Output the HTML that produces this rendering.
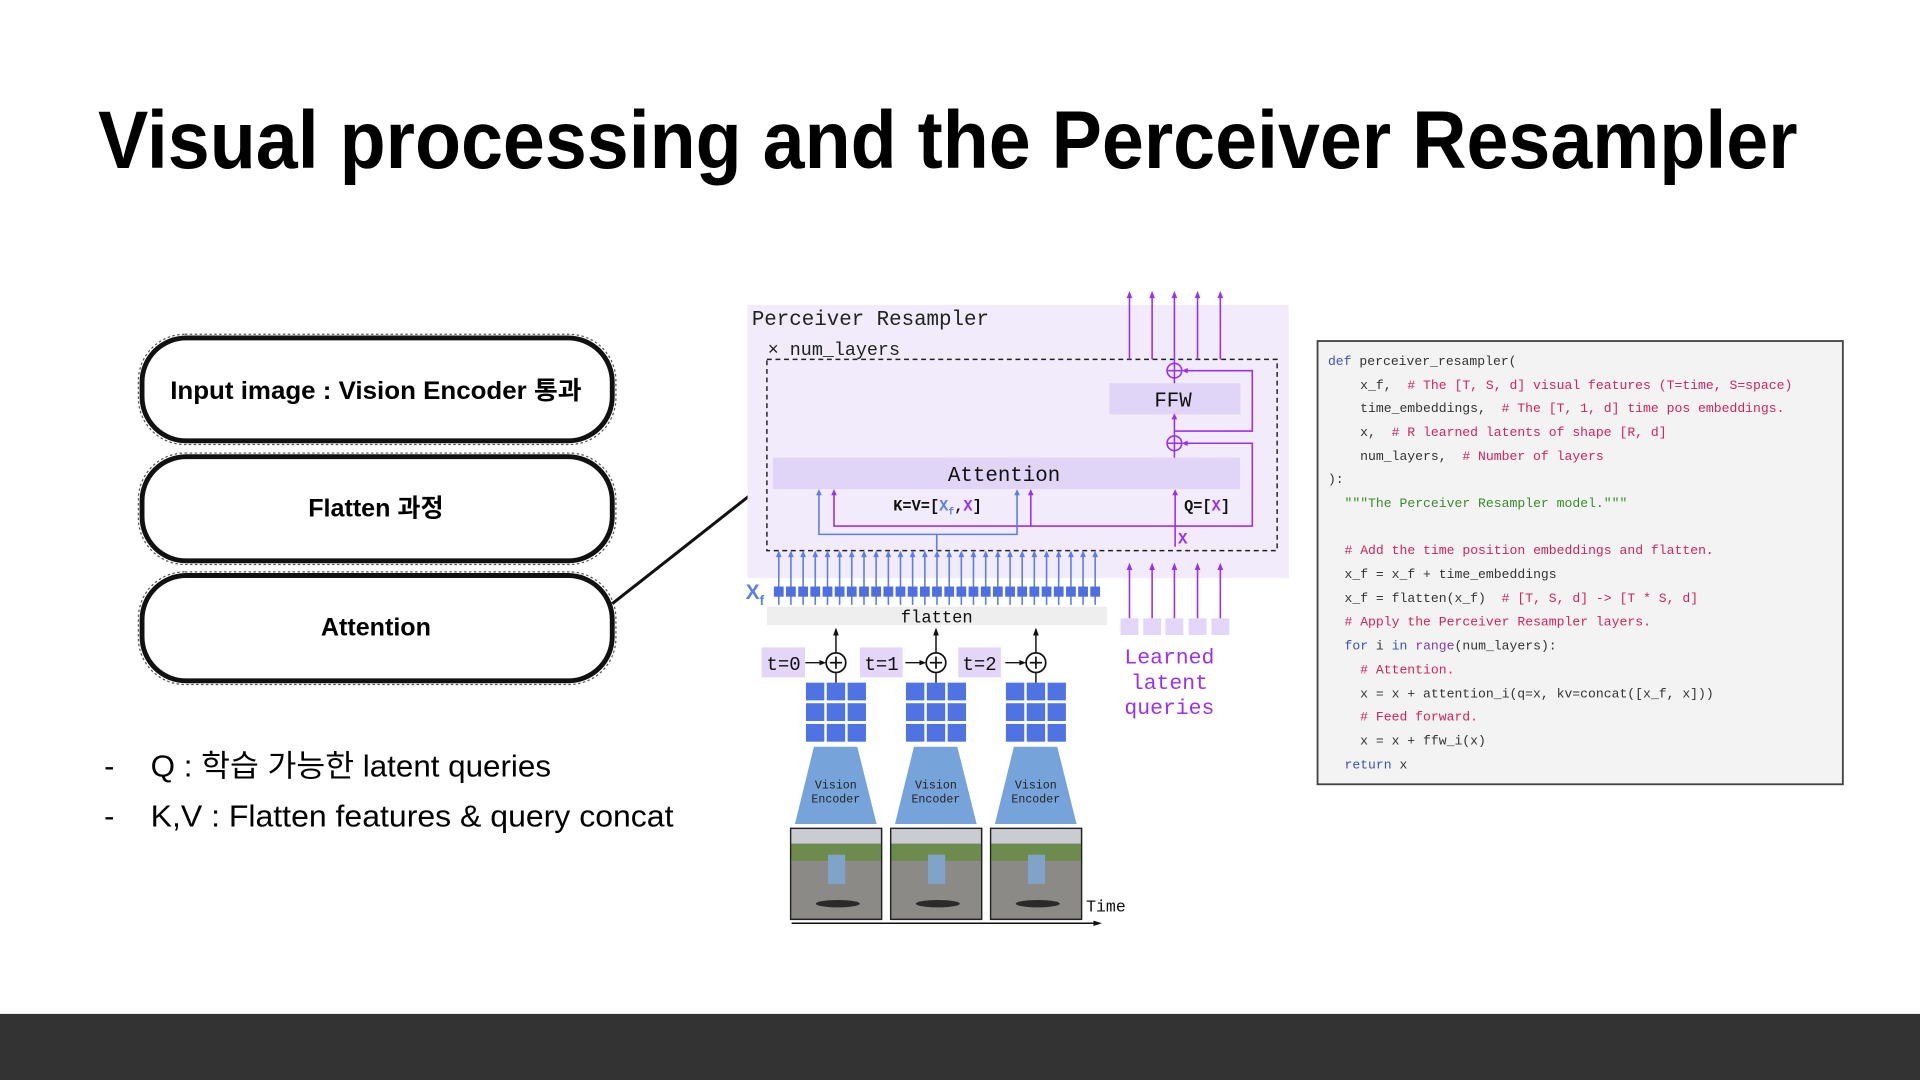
<!DOCTYPE html>
<html><head><meta charset="utf-8"><style>
html,body{margin:0;padding:0;background:#fff;}
svg{display:block;}
.mono{font-family:"Liberation Mono","DejaVu Sans Mono",monospace;}
.sans{font-family:"Liberation Sans","Noto Sans CJK KR",sans-serif;}
.code text{white-space:pre;}
</style></head><body>
<svg width="1920" height="1080" viewBox="0 0 1568 882" xmlns="http://www.w3.org/2000/svg">
<defs>
<g id="ba"><line x1="0" y1="494" x2="0" y2="452" stroke="#5b7fe8" stroke-width="1.3"/><polygon points="-2.3,455 0,449.5 2.3,455" fill="#5b7fe8"/><rect x="-4" y="479" width="8" height="8.3" fill="#4f6fe0"/></g>
<g id="pa"><line x1="0" y1="293.5" x2="0" y2="241" stroke="#9b30f0" stroke-width="1.3"/><polygon points="-2.3,243.5 0,237.5 2.3,243.5" fill="#9b30f0"/></g>
<g id="qa"><line x1="0" y1="505" x2="0" y2="463" stroke="#9b30f0" stroke-width="1.3"/><polygon points="-2.3,465.5 0,459.5 2.3,465.5" fill="#9b30f0"/><rect x="-7.3" y="505" width="14.6" height="13.6" fill="#e3d6f8"/></g>
<g id="ve"><polygon points="16.5,609.8 51.9,609.8 67.7,672.9 1,672.9" fill="#76a3d9"/>
<text x="34.4" y="644" font-size="9.5" text-anchor="middle" class="mono" fill="#222">Vision</text>
<text x="34.4" y="655.5" font-size="9.5" text-anchor="middle" class="mono" fill="#222">Encoder</text>
<g fill="#4f73e3"><rect x="10" y="557.5" width="15" height="14.5"/><rect x="27" y="557.5" width="15" height="14.5"/><rect x="44" y="557.5" width="15" height="14.5"/>
<rect x="10" y="574.3" width="15" height="14.5"/><rect x="27" y="574.3" width="15" height="14.5"/><rect x="44" y="574.3" width="15" height="14.5"/>
<rect x="10" y="591.2" width="15" height="14.5"/><rect x="27" y="591.2" width="15" height="14.5"/><rect x="44" y="591.2" width="15" height="14.5"/></g>
<line x1="34.5" y1="557.5" x2="34.5" y2="549.4" stroke="#111" stroke-width="1.2"/>
<line x1="34.5" y1="533" x2="34.5" y2="517" stroke="#111" stroke-width="1.2"/><polygon points="32.2,519 34.5,512.5 36.8,519" fill="#111"/>
<circle cx="34.5" cy="541.2" r="8" fill="#fff" stroke="#111" stroke-width="1.4"/>
<line x1="29.5" y1="541.2" x2="39.5" y2="541.2" stroke="#111" stroke-width="1.4"/><line x1="34.5" y1="536.2" x2="34.5" y2="546.2" stroke="#111" stroke-width="1.4"/>
<line x1="9.5" y1="541.2" x2="24" y2="541.2" stroke="#111" stroke-width="1.2"/><polygon points="21,539 26.5,541.2 21,543.4" fill="#111"/>
<rect x="-2.5" y="676.5" width="74.3" height="74.3" fill="#7e7e7a" stroke="#222" stroke-width="1.2"/>
<rect x="-1.9" y="677.1" width="73" height="12" fill="#c9ccd2"/>
<rect x="-1.9" y="689" width="73" height="14" fill="#6c8b4c"/>
<rect x="-1.9" y="703" width="73" height="47" fill="#8b8a86"/>
<ellipse cx="36" cy="738" rx="18" ry="3" fill="#2a2a2a"/>
<rect x="28" y="698" width="14" height="24" fill="#7fa4c8"/>
</g>
</defs>

<!-- title -->
<text x="80" y="137" font-size="67" font-weight="bold" class="sans" fill="#000" textLength="1388" lengthAdjust="spacingAndGlyphs">Visual processing and the Perceiver Resampler</text>

<!-- pills -->
<g fill="#fff" stroke="#111" stroke-width="4">
<rect x="116" y="276" width="384" height="84" rx="36"/>
<rect x="116" y="373" width="384" height="85" rx="36"/>
<rect x="116" y="470" width="384" height="86" rx="36"/>
</g>
<g fill="none" stroke="#555" stroke-width="1" stroke-dasharray="2 2">
<rect x="113" y="273" width="390" height="90" rx="38"/>
<rect x="113" y="370" width="390" height="91" rx="38"/>
<rect x="113" y="467" width="390" height="92" rx="38"/>
</g>
<g class="sans" font-size="20.5" font-weight="bold" text-anchor="middle" fill="#000">
<text x="307" y="326" textLength="336" lengthAdjust="spacingAndGlyphs">Input image : Vision Encoder 통과</text>
<text x="307" y="422">Flatten 과정</text>
<text x="307" y="519">Attention</text>
</g>
<line x1="500" y1="493" x2="636" y2="386" stroke="#111" stroke-width="2.5"/>

<!-- bullets -->
<g class="sans" font-size="25" fill="#000">
<text x="85" y="634">-</text><text x="123" y="634" textLength="327" lengthAdjust="spacingAndGlyphs">Q : 학습 가능한 latent queries</text>
<text x="85" y="675">-</text><text x="123" y="675" textLength="427" lengthAdjust="spacingAndGlyphs">K,V : Flatten features &amp; query concat</text>
</g>

<!-- perceiver diagram -->
<rect x="610.5" y="249" width="442" height="223" fill="#f1ebfc"/>
<text x="614" y="265.5" font-size="17" class="mono" fill="#222">Perceiver Resampler</text>
<text x="627" y="290" font-size="15" class="mono" fill="#222">× num_layers</text>
<rect x="626.3" y="293.5" width="416.7" height="156.2" fill="none" stroke="#222" stroke-width="1.2" stroke-dasharray="4 3"/>
<rect x="906" y="313" width="107" height="25.4" fill="#e0d4f7"/>
<text x="958" y="332" font-size="17" class="mono" text-anchor="middle" fill="#111">FFW</text>
<rect x="631.3" y="373.8" width="381.4" height="25.6" fill="#e0d4f7"/>
<text x="820" y="393" font-size="17" class="mono" text-anchor="middle" fill="#111">Attention</text>

<use href="#pa" x="922.4"/><use href="#pa" x="940.9"/><use href="#pa" x="978"/><use href="#pa" x="996.6"/>
<line x1="959.1" y1="296.5" x2="959.1" y2="241" stroke="#9b30f0" stroke-width="1.3"/><polygon points="956.8,243.5 959.1,237.5 961.4,243.5" fill="#9b30f0"/>

<g stroke="#9b30f0" stroke-width="1.3" fill="none">
<circle cx="959.1" cy="302.7" r="6"/><line x1="953.1" y1="302.7" x2="965.1" y2="302.7"/><line x1="959.1" y1="296.7" x2="959.1" y2="308.7"/>
<circle cx="959.1" cy="362" r="6"/><line x1="953.1" y1="362" x2="965.1" y2="362"/><line x1="959.1" y1="356" x2="959.1" y2="368"/>
<line x1="959.1" y1="313" x2="959.1" y2="308.7"/>
<line x1="959.1" y1="356" x2="959.1" y2="342"/>
<line x1="959.1" y1="373.8" x2="959.1" y2="368"/>
<polyline points="959.1,352 1022.7,352 1022.7,302.7 968,302.7"/>
<polyline points="681.1,402 681.1,429.6 1022.7,429.6 1022.7,362 968,362"/>
<line x1="841.8" y1="429.6" x2="841.8" y2="402"/>
<line x1="959.7" y1="446.5" x2="959.7" y2="402"/>
</g>
<g fill="#9b30f0">
<polygon points="956.8,342.5 959.1,337.5 961.4,342.5"/>
<polygon points="970,300.5 965,302.7 970,304.9"/>
<polygon points="970,359.8 965,362 970,364.2"/>
<polygon points="678.8,404.5 681.1,399.5 683.4,404.5"/>
<polygon points="839.5,404.5 841.8,399.5 844.1,404.5"/>
<polygon points="957.4,404.5 959.7,399.5 962,404.5"/>
</g>
<g stroke="#5b7fe8" stroke-width="1.3" fill="none">
<polyline points="668.8,402 668.8,436.4 830.6,436.4 830.6,402"/>
<line x1="765" y1="436.4" x2="765" y2="449.7"/>
</g>
<g fill="#5b7fe8">
<polygon points="666.5,404.5 668.8,399.5 671.1,404.5"/>
<polygon points="828.3,404.5 830.6,399.5 832.9,404.5"/>
</g>
<text x="729.5" y="417" font-size="12.5" font-weight="bold" class="mono" fill="#111">K=V=[<tspan fill="#5b7fe8">X</tspan><tspan fill="#5b7fe8" font-size="8" dy="3">f</tspan><tspan dy="-3">,</tspan><tspan fill="#9b30f0">X</tspan>]</text>
<text x="967" y="417" font-size="12.5" font-weight="bold" class="mono" fill="#111">Q=[<tspan fill="#9b30f0">X</tspan>]</text>
<text x="962" y="444" font-size="13" font-weight="bold" class="mono" fill="#9b30f0">X</text>

<use href="#ba" x="636"/><use href="#ba" x="645.9"/><use href="#ba" x="655.9"/><use href="#ba" x="665.8"/><use href="#ba" x="675.8"/><use href="#ba" x="685.7"/><use href="#ba" x="695.6"/><use href="#ba" x="705.6"/><use href="#ba" x="715.5"/><use href="#ba" x="725.5"/><use href="#ba" x="735.4"/><use href="#ba" x="745.3"/><use href="#ba" x="755.3"/><use href="#ba" x="765.2"/><use href="#ba" x="775.2"/><use href="#ba" x="785.1"/><use href="#ba" x="795"/><use href="#ba" x="805"/><use href="#ba" x="814.9"/><use href="#ba" x="824.9"/><use href="#ba" x="834.8"/><use href="#ba" x="844.7"/><use href="#ba" x="854.7"/><use href="#ba" x="864.6"/><use href="#ba" x="874.6"/><use href="#ba" x="884.5"/><use href="#ba" x="894.4"/>
<text x="609" y="489" font-size="17" font-weight="bold" class="sans" fill="#5b7fe8">X<tspan font-size="11" dy="5">f</tspan></text>

<rect x="626.3" y="495.5" width="277.7" height="14.9" fill="#eeeeee"/>
<text x="765" y="508.5" font-size="14" class="mono" text-anchor="middle" fill="#111">flatten</text>

<use href="#qa" x="922.4"/><use href="#qa" x="940.9"/><use href="#qa" x="959.1"/><use href="#qa" x="978"/><use href="#qa" x="996.6"/>
<g class="mono" font-size="17.5" text-anchor="middle" fill="#9b30f0">
<text x="955" y="542">Learned</text><text x="955" y="562.5">latent</text><text x="955" y="583">queries</text>
</g>

<g fill="#e3d6f8"><rect x="622" y="528.7" width="35.4" height="24.5"/><rect x="702.3" y="528.7" width="34.8" height="24.5"/><rect x="782.6" y="528.7" width="34.8" height="24.5"/></g>
<g class="mono" font-size="15.5" fill="#111">
<text x="626" y="547">t=0</text><text x="706" y="547">t=1</text><text x="786" y="547">t=2</text>
</g>
<use href="#ve" x="648.2"/><use href="#ve" x="729.9"/><use href="#ve" x="811.5"/>

<line x1="646.5" y1="754" x2="895" y2="754" stroke="#111" stroke-width="1.2"/><polygon points="893,751.8 900,754 893,756.2" fill="#111"/>
<text x="887" y="744.5" font-size="13.5" class="mono" fill="#111">Time</text>

<!-- code -->
<rect x="1076" y="278.5" width="429" height="362" fill="#f3f3f3" stroke="#444" stroke-width="1.5"/>
<g class="mono code" font-size="10.7" fill="#333" xml:space="preserve">
<text x="1084.5" y="298"><tspan fill="#3b53b5">def</tspan> perceiver_resampler(</text>
<text x="1110.8" y="317.5">x_f,  <tspan fill="#d0245a"># The [T, S, d] visual features (T=time, S=space)</tspan></text>
<text x="1110.8" y="336.5">time_embeddings,  <tspan fill="#d0245a"># The [T, 1, d] time pos embeddings.</tspan></text>
<text x="1110.8" y="356">x,  <tspan fill="#d0245a"># R learned latents of shape [R, d]</tspan></text>
<text x="1110.8" y="375.5">num_layers,  <tspan fill="#d0245a"># Number of layers</tspan></text>
<text x="1084.5" y="394.5">):</text>
<text x="1098" y="414" fill="#3a8a2a">"""The Perceiver Resampler model."""</text>
<text x="1098" y="452.5" fill="#d0245a"># Add the time position embeddings and flatten.</text>
<text x="1098" y="472">x_f = x_f + time_embeddings</text>
<text x="1098" y="491.5">x_f = flatten(x_f)  <tspan fill="#d0245a"># [T, S, d] -&gt; [T * S, d]</tspan></text>
<text x="1098" y="511" fill="#d0245a"># Apply the Perceiver Resampler layers.</text>
<text x="1098" y="530.5"><tspan fill="#3b53b5">for</tspan> i <tspan fill="#3b53b5">in</tspan> <tspan fill="#7a3db5">range</tspan>(num_layers):</text>
<text x="1110.8" y="550" fill="#d0245a"># Attention.</text>
<text x="1110.8" y="569.5">x = x + attention_i(q=x, kv=concat([x_f, x]))</text>
<text x="1110.8" y="588.5" fill="#d0245a"># Feed forward.</text>
<text x="1110.8" y="608">x = x + ffw_i(x)</text>
<text x="1098" y="627.5" fill="#3b53b5">return <tspan fill="#333">x</tspan></text>
</g>

<rect x="0" y="828" width="1568" height="54" fill="#333333"/>
</svg>
</body></html>
